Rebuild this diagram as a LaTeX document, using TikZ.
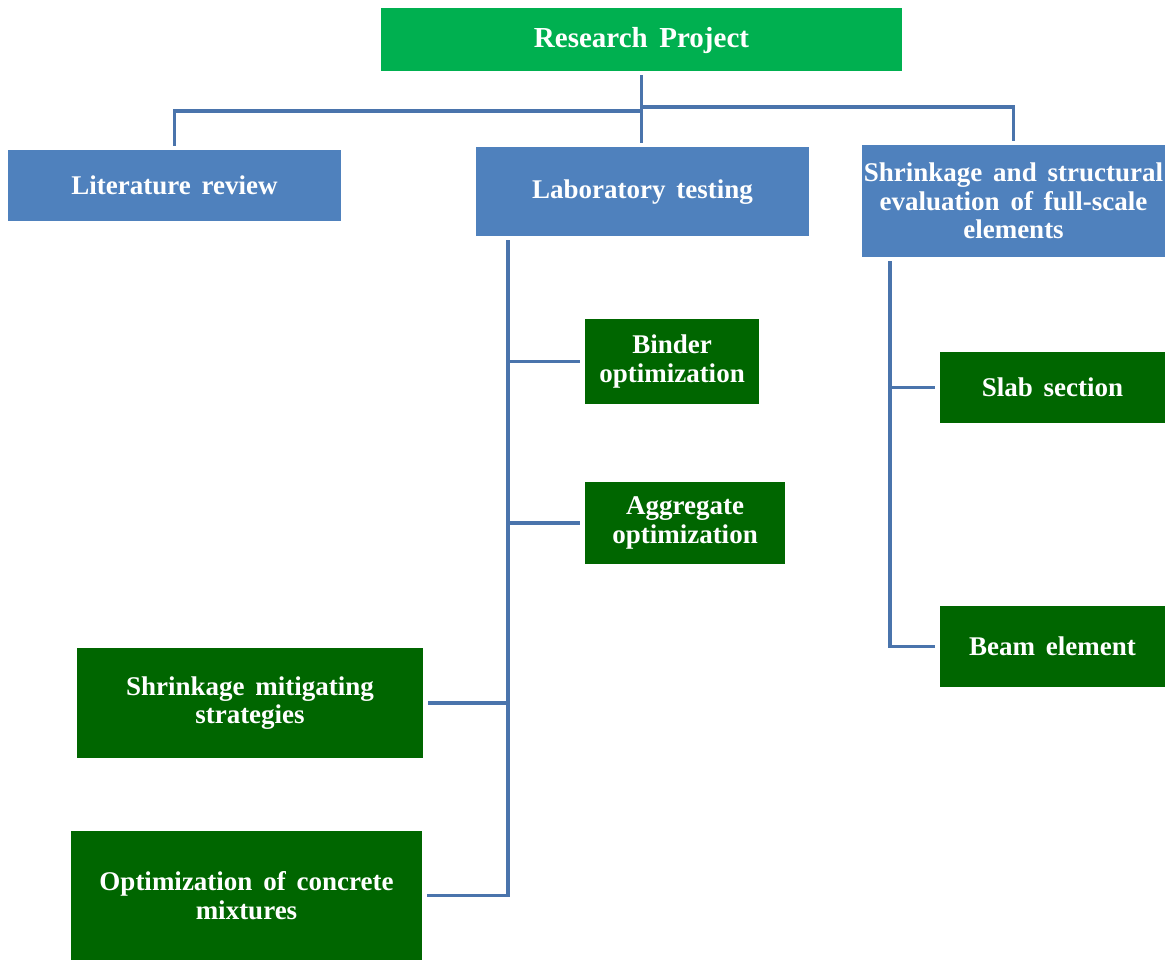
\documentclass[tikz,border=0pt]{standalone}
\usepackage{fontspec}
\setmainfont{Liberation Serif}
\usepackage{xcolor}
\usepackage{tikz}
\usetikzlibrary{positioning}
\definecolor{rootgreen}{HTML}{00B050}
\definecolor{headblue}{HTML}{4F81BD}
\definecolor{taskgreen}{HTML}{006600}
\definecolor{linkblue}{HTML}{4A74AC}
\begin{document}
\begin{tikzpicture}[x=1pt, y=-1pt,
  box/.style={inner sep=0pt, align=center, text=white, font=\bfseries\fontsize{27}{28.5}\selectfont,
    execute at begin node={\spaceskip=0.4em\relax}},
  rootbox/.style={box, fill=rootgreen, font=\bfseries\fontsize{29}{32}\selectfont},
  headbox/.style={box, fill=headblue},
  taskbox/.style={box, fill=taskgreen},
  link/.style={draw=linkblue, line width=3.5pt}]
\useasboundingbox (0,0) rectangle (1172,960);
\node[rootbox, minimum width=521pt, minimum height=63pt, text depth=4pt] (root) at (641.5,39.5) {Research Project};
\node[headbox, minimum width=333pt, minimum height=71pt] (lit) at (174.5,185.5) {Literature review};
\node[headbox, minimum width=333pt, minimum height=89pt, text depth=4pt] (lab) at (642.5,191.5) {Laboratory testing};
\node[headbox, minimum width=303pt, minimum height=112pt] (eval) at (1013.5,201) {Shrinkage and structural\\evaluation of full-scale\\elements};
\node[taskbox, minimum width=174pt, minimum height=85pt] (binder) at (672,361.5) {Binder\\optimization};
\node[taskbox, minimum width=200pt, minimum height=82pt] (agg) at (685,523) {Aggregate\\optimization};
\node[taskbox, minimum width=346pt, minimum height=110pt] (shrink) at (250,703) {Shrinkage mitigating\\strategies};
\node[taskbox, minimum width=351pt, minimum height=129pt] (optim) at (246.5,895.5) {Optimization of concrete\\mixtures};
\node[taskbox, minimum width=225pt, minimum height=71pt] (slab) at (1052.5,387.5) {Slab section};
\node[taskbox, minimum width=225pt, minimum height=81pt] (beam) at (1052.5,646.5) {Beam element};
\coordinate (busL) at (641.5,111);
\coordinate (busR) at (641.5,107);
\coordinate (trunkL) at (508,0);
\coordinate (trunkR) at (890,0);
\draw[link, shorten <=4pt, shorten >=4pt] (root.south) -- (root.south |- lab.north);
\draw[link] ([yshift=4pt]lit.north) |- (busL);
\draw[link] ([yshift=4pt]eval.north) |- (busR);
\draw[link, shorten <=4pt] (lab.south -| trunkL) -- (trunkL |- optim.east) -- ([xshift=5pt]optim.east);
\draw[link] (trunkL |- binder.west) -- ([xshift=-5pt]binder.west);
\draw[link] (trunkL |- agg.west) -- ([xshift=-5pt]agg.west);
\draw[link] (trunkL |- shrink.east) -- ([xshift=5pt]shrink.east);
\draw[link, shorten <=4pt] (eval.south -| trunkR) -- (trunkR |- beam.west) -- ([xshift=-5pt]beam.west);
\draw[link] (trunkR |- slab.west) -- ([xshift=-5pt]slab.west);
\end{tikzpicture}
\end{document}
